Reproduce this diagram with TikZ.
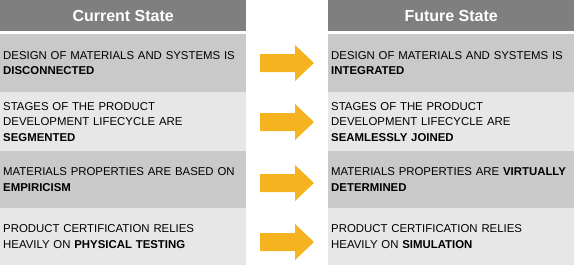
\documentclass[tikz,border=0pt]{standalone}
\usepackage{fontspec}
\setmainfont{Liberation Sans}
\usetikzlibrary{positioning}
\definecolor{headgray}{HTML}{7F7F7F}
\definecolor{rowdark}{HTML}{C9C9C9}
\definecolor{rowlight}{HTML}{E7E7E7}
\definecolor{arrowgold}{HTML}{F6B320}

\begin{document}
\begin{tikzpicture}[x=1pt, y=-1pt,
    header/.style={fill=headgray, text=white, font=\fontsize{16}{18}\selectfont\bfseries,
        minimum width=246pt, minimum height=31pt, inner sep=0pt, anchor=north west},
    cell/.style={text width=240pt, inner xsep=3pt, inner ysep=0pt, align=left,
        font=\fontsize{11.4}{15.4}\selectfont, anchor=north west},
]
    \useasboundingbox (0,0) rectangle (575,268);

    % column headers
    \node[header] (curH) at (0,0) {Current State};
    \node[header] (futH) at (328,0) {Future State};

    % current state
    \node[cell, fill=rowdark, minimum height=58pt] (cur1) at (0,34) {DESIGN OF MATERIALS AND SYSTEMS IS\\\textbf{DISCONNECTED}};
    \node[cell, fill=rowlight, minimum height=59pt] (cur2) at (0,92) {STAGES OF THE PRODUCT\\DEVELOPMENT LIFECYCLE ARE\\\textbf{SEGMENTED}};
    \node[cell, fill=rowdark, minimum height=57pt] (cur3) at (0,151) {MATERIALS PROPERTIES ARE BASED ON\\\textbf{EMPIRICISM}};
    \node[cell, fill=rowlight, minimum height=57pt] (cur4) at (0,208) {PRODUCT CERTIFICATION RELIES\\HEAVILY ON \textbf{PHYSICAL TESTING}};

    % future state
    \node[cell, fill=rowdark, minimum height=58pt] (fut1) at (328,34) {DESIGN OF MATERIALS AND SYSTEMS IS\\\textbf{INTEGRATED}};
    \node[cell, fill=rowlight, minimum height=59pt] (fut2) at (328,92) {STAGES OF THE PRODUCT\\DEVELOPMENT LIFECYCLE ARE\\\textbf{SEAMLESSLY JOINED}};
    \node[cell, fill=rowdark, minimum height=57pt] (fut3) at (328,151) {MATERIALS PROPERTIES ARE \textbf{VIRTUALLY}\\\textbf{DETERMINED}};
    \node[cell, fill=rowlight, minimum height=57pt] (fut4) at (328,208) {PRODUCT CERTIFICATION RELIES\\HEAVILY ON \textbf{SIMULATION}};

    % block arrows
    \foreach \n/\y in {1/63, 2/122, 3/183, 4/242} {
        \coordinate (arr\n) at (287,\y);
        \fill[arrowgold] (arr\n) ++(-27,-9) -- ++(35,0) -- ++(0,-9) -- ++(19,18) -- ++(-19,18) -- ++(0,-9) -- ++(-35,0) -- cycle;
    }
\end{tikzpicture}
\end{document}
